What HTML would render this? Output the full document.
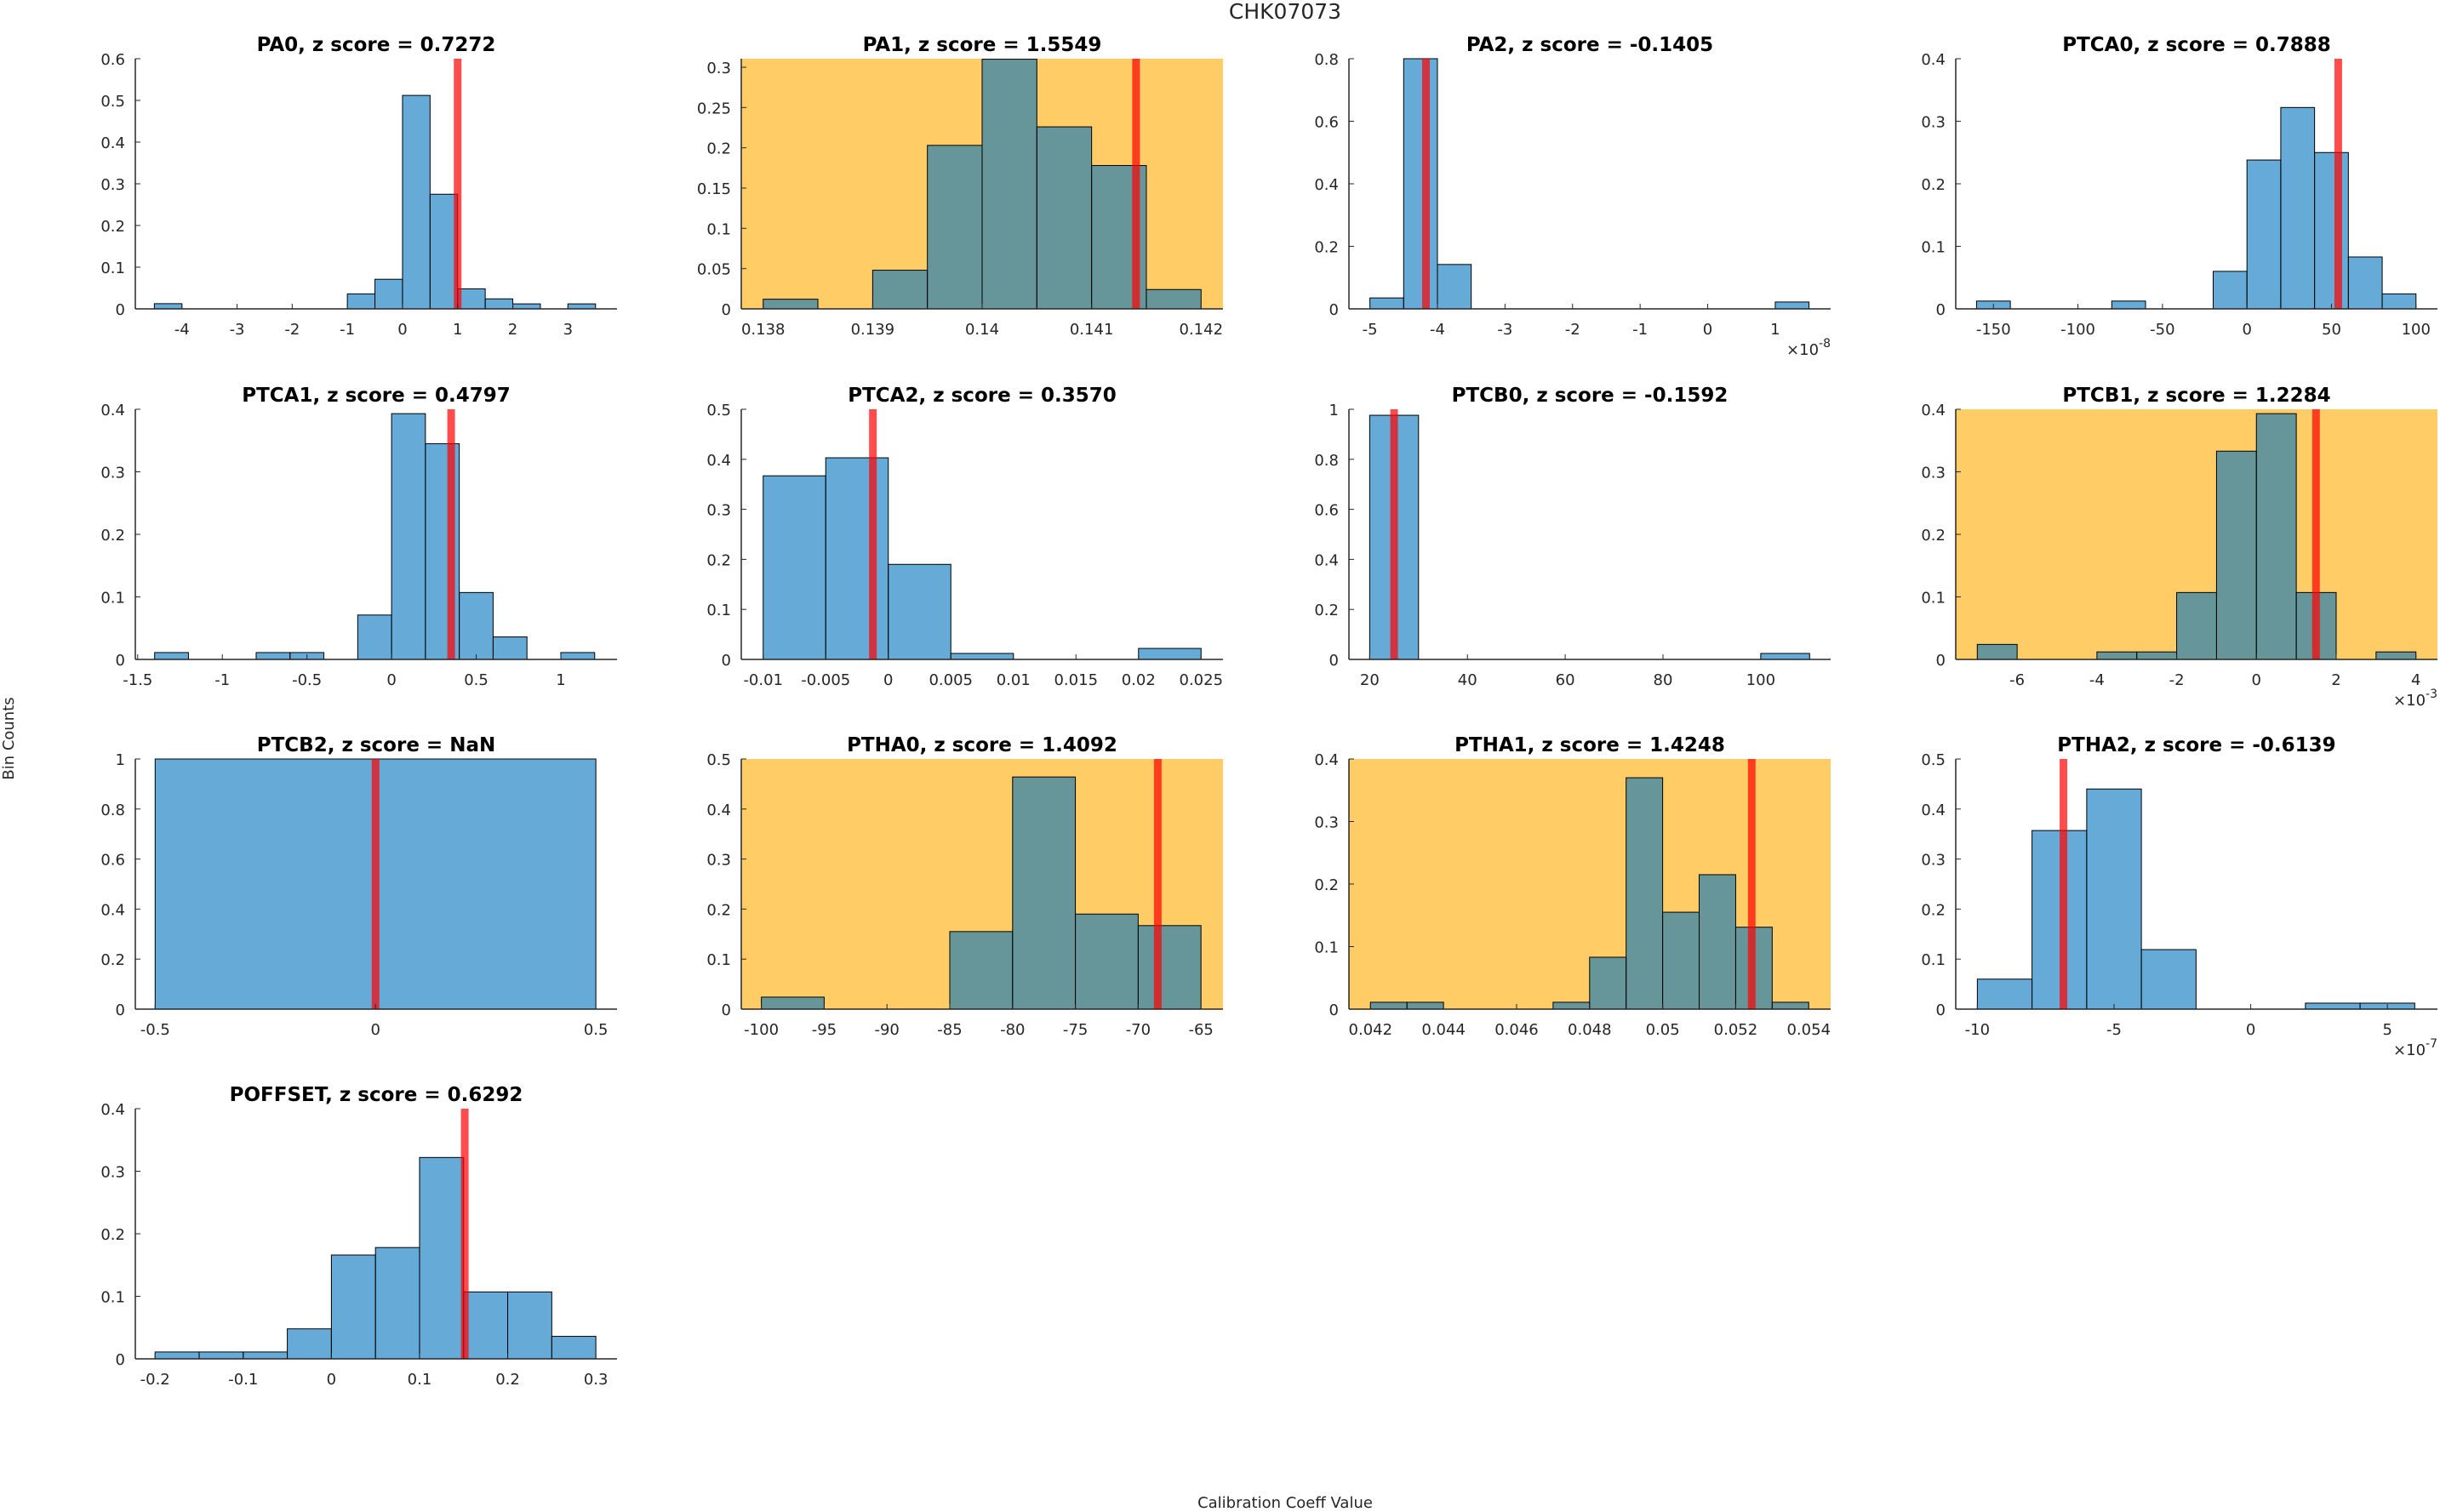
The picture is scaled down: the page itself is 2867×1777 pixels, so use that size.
<!DOCTYPE html>
<html>
<head>
<meta charset="utf-8">
<style>
  html,body{margin:0;padding:0;background:#fff;}
  svg{display:block;}
  text{font-family:"DejaVu Sans","Liberation Sans",sans-serif;fill:#262626;}
  .ttl{font-weight:bold;font-size:23px;fill:#000;}
  .tick{font-size:18px;}
</style>
</head>
<body>
<svg id="fig" width="2867" height="1777" viewBox="0 0 2867 1777" xmlns="http://www.w3.org/2000/svg">
  <rect x="0" y="0" width="2867" height="1777" fill="#fff"/>
  <text x="1510" y="22" text-anchor="middle" font-size="25">CHK07073</text>
  <text x="0" y="0" transform="translate(16,868) rotate(-90)" text-anchor="middle" font-size="18">Bin Counts</text>
  <text x="1510" y="1772" text-anchor="middle" font-size="18">Calibration Coeff Value</text>
</svg>
<script>
// ---- data (bin counts, bin starts/widths, ticks, marker values) ----
const panelNames = ["PA0","PA1","PA2","PTCA0","PTCA1","PTCA2","PTCB0","PTCB1","PTCB2","PTHA0","PTHA1","PTHA2","POFFSET"];
const zScores = ["0.7272","1.5549","-0.1405","0.7888","0.4797","0.3570","-0.1592","1.2284","NaN","1.4092","1.4248","-0.6139","0.6292"];
const highlighted = [false,true,false,false,false,false,false,true,false,true,true,false,false];

const pa0Counts = [0.0125,0,0,0,0,0,0,0.036,0.071,0.512,0.275,0.048,0.024,0.012,0,0.012];
const pa1Counts = [0.012,0,0.048,0.203,0.31,0.226,0.178,0.024];
const pa2Counts = [0.035,0.8,0.142,0,0,0,0,0,0,0,0,0,0.022];
const ptca0Counts = [0.0125,0,0,0,0.0125,0,0,0.06,0.238,0.322,0.25,0.083,0.024];
const ptca1Counts = [0.011,0,0,0.011,0.011,0,0.071,0.393,0.345,0.107,0.036,0,0.011];
const ptca2Counts = [0.367,0.403,0.19,0.012,0,0,0.022];
const ptcb0Counts = [0.976,0,0,0,0,0,0,0,0.024];
const ptcb1Counts = [0.024,0,0,0.012,0.012,0.107,0.333,0.393,0.107,0,0.012];
const ptcb2Counts = [1];
const ptha0Counts = [0.024,0,0,0.155,0.464,0.19,0.167];
const ptha1Counts = [0.011,0.011,0,0,0,0.011,0.083,0.37,0.155,0.215,0.131,0.011];
const ptha2Counts = [0.06,0.357,0.44,0.119,0,0,0.012,0.012];
const poffsetCounts = [0.011,0.011,0.011,0.048,0.166,0.178,0.322,0.107,0.107,0.036];
const allCounts = [pa0Counts,pa1Counts,pa2Counts,ptca0Counts,ptca1Counts,ptca2Counts,ptcb0Counts,ptcb1Counts,ptcb2Counts,ptha0Counts,ptha1Counts,ptha2Counts,poffsetCounts];

const binStarts = [-4.5,0.138,-5,-160,-1.4,-0.01,20,-7,-0.5,-100,0.042,-10,-0.2];
const binWidths = [0.5,0.0005,0.5,20,0.2,0.005,10,1,1,5,0.001,2,0.05];
const markerValues = [1.0,0.141406,-4.17,54,0.352,-0.00123,25,1.495,0,-68.44,0.05244,-6.85,0.1513];

const xMins = [-4.845,0.1378,-5.31,-172.3,-1.514,-0.01175,15.76,-7.54,-0.545,-101.6,0.04141,-10.79,-0.2224];
const xMaxs = [3.89,0.1422,1.82,112.7,1.332,0.02675,114.3,4.54,0.548,-63.25,0.0546,6.83,0.324];
const yMaxs = [0.6,0.3106,0.8,0.4,0.4,0.5,1,0.4,1,0.5,0.4,0.5,0.4];

const xTicks = [
  [-4,-3,-2,-1,0,1,2,3],
  [0.138,0.139,0.14,0.141,0.142],
  [-5,-4,-3,-2,-1,0,1],
  [-150,-100,-50,0,50,100],
  [-1.5,-1,-0.5,0,0.5,1],
  [-0.01,-0.005,0,0.005,0.01,0.015,0.02,0.025],
  [20,40,60,80,100],
  [-6,-4,-2,0,2,4],
  [-0.5,0,0.5],
  [-100,-95,-90,-85,-80,-75,-70,-65],
  [0.042,0.044,0.046,0.048,0.05,0.052,0.054],
  [-10,-5,0,5],
  [-0.2,-0.1,0,0.1,0.2,0.3]
];
const yTicks = [
  [0,0.1,0.2,0.3,0.4,0.5,0.6],
  [0,0.05,0.1,0.15,0.2,0.25,0.3],
  [0,0.2,0.4,0.6,0.8],
  [0,0.1,0.2,0.3,0.4],
  [0,0.1,0.2,0.3,0.4],
  [0,0.1,0.2,0.3,0.4,0.5],
  [0,0.2,0.4,0.6,0.8,1],
  [0,0.1,0.2,0.3,0.4],
  [0,0.2,0.4,0.6,0.8,1],
  [0,0.1,0.2,0.3,0.4,0.5],
  [0,0.1,0.2,0.3,0.4],
  [0,0.1,0.2,0.3,0.4,0.5],
  [0,0.1,0.2,0.3,0.4]
];
const exponents = [null,null,"-8",null,null,null,null,"-3",null,null,null,"-7",null];

// ---- layout ----
const colX = [159,871,1585,2298];
const rowY = [69,481,892,1303];
const AW = 566, AH = 294;
const NS = "http://www.w3.org/2000/svg";
const fig = document.getElementById("fig");

function mk(tag, attrs, parent){
  const e = document.createElementNS(NS, tag);
  for (const k in attrs) e.setAttribute(k, attrs[k]);
  parent.appendChild(e);
  return e;
}
function fmt(v){
  return String(+v.toFixed(6));
}

for (let i = 0; i < panelNames.length; i++) {
  const x0 = colX[i % 4], y0 = rowY[Math.floor(i / 4)];
  const xmin = xMins[i], xmax = xMaxs[i], ymax = yMaxs[i];
  const sx = v => x0 + (v - xmin) / (xmax - xmin) * AW;
  const sy = v => y0 + AH - v / ymax * AH;
  const slug = panelNames[i].toLowerCase();

  const g = mk("g", {}, fig);
  
  

  if (highlighted[i]) {
    const bg = mk("rect", {x:x0, y:y0, width:AW, height:AH, fill:"#FFCC66"}, g);
    
    
  }

  const counts = allCounts[i];
  for (let b = 0; b < counts.length; b++) {
    const l = sx(binStarts[i] + b * binWidths[i]);
    const r = sx(binStarts[i] + (b + 1) * binWidths[i]);
    const top = sy(counts[b]);
    const bar = mk("rect", {x:l, y:top, width:r - l, height:Math.max(0, y0 + AH - top),
      fill:"rgb(0,114,189)", "fill-opacity":0.6, stroke:"#000", "stroke-width":1}, g);
    
    
  }

  const mx = sx(markerValues[i]);
  const ml = mk("line", {x1:mx, y1:y0, x2:mx, y2:y0 + AH, stroke:"rgb(255,0,0)", "stroke-opacity":0.7, "stroke-width":9}, g);
  
  

  const xa = mk("line", {x1:x0, y1:y0 + AH, x2:x0 + AW, y2:y0 + AH, stroke:"#262626", "stroke-width":1.5}, g);
  
  
  const ya = mk("line", {x1:x0, y1:y0, x2:x0, y2:y0 + AH, stroke:"#262626", "stroke-width":1.5}, g);
  
  

  for (const t of xTicks[i]) {
    const tx = sx(t);
    const tk = mk("line", {x1:tx, y1:y0 + AH, x2:tx, y2:y0 + AH - 6, stroke:"#262626", "stroke-width":1}, g);
    
    
    const tl = mk("text", {x:tx, y:y0 + AH + 30, "text-anchor":"middle", class:"tick"}, g);
    tl.textContent = fmt(t);
    
    
  }
  for (const t of yTicks[i]) {
    const ty = sy(t);
    const tk = mk("line", {x1:x0, y1:ty, x2:x0 + 6, y2:ty, stroke:"#262626", "stroke-width":1}, g);
    
    
    const tl = mk("text", {x:x0 - 12, y:ty + 7, "text-anchor":"end", class:"tick"}, g);
    tl.textContent = fmt(t);
    
    
  }

  if (exponents[i]) {
    const ex = mk("text", {x:x0 + AW, y:y0 + AH + 54, "text-anchor":"end", "font-size":"18"}, g);
    ex.textContent = "\u00d710";
    const sup = mk("tspan", {dy:"-9", "font-size":"14"}, ex);
    sup.textContent = exponents[i];
    
    
  }

  const tt = mk("text", {x:x0 + AW / 2, y:y0 - 9, "text-anchor":"middle", class:"ttl"}, g);
  tt.textContent = panelNames[i] + ", z score = " + zScores[i];
  
  
}
</script>
</body>
</html>
